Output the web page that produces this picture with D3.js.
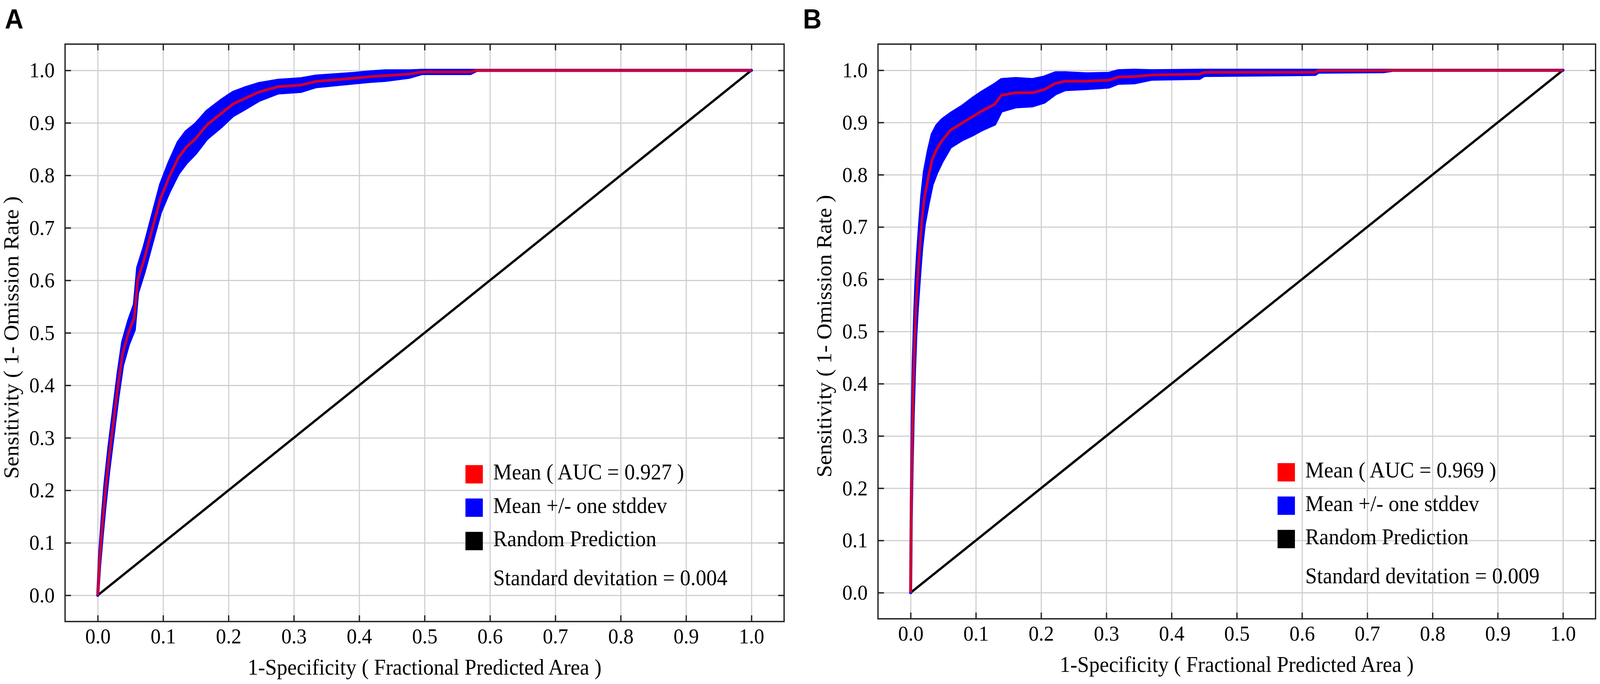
<!DOCTYPE html>
<html>
<head>
<meta charset="utf-8">
<script src="https://cdn.jsdelivr.net/npm/d3@7"></script>
<style>
  html, body { margin: 0; padding: 0; background: #fff; overflow: hidden; }
  #chart { width: 100vw; height: 100vh; }
  svg { display: block; }
</style>
</head>
<body>
<div id="chart"></div>
<script>
// ---- data ----
const tickValues = [0, 0.1, 0.2, 0.3, 0.4, 0.5, 0.6, 0.7, 0.8, 0.9, 1.0];
const randomLine = [[0, 0], [1, 1]];

// panel A: fractional predicted area, mean sensitivity, one stddev
const fprA = [0, 0.003, 0.007, 0.011, 0.017, 0.024, 0.031, 0.038, 0.047, 0.056, 0.061, 0.071, 0.086, 0.096,
  0.109, 0.123, 0.135, 0.149, 0.167, 0.19, 0.207, 0.224, 0.247, 0.276, 0.311, 0.334, 0.391, 0.416, 0.44,
  0.477, 0.496, 0.52, 0.57, 0.58, 0.6, 1.0];
const meanA = [0, 0.07, 0.133, 0.19, 0.26, 0.33, 0.40, 0.46, 0.50, 0.53, 0.60, 0.64, 0.71, 0.756,
  0.796, 0.833, 0.853, 0.869, 0.896, 0.919, 0.936, 0.946, 0.959, 0.969, 0.972, 0.979, 0.985, 0.988, 0.990,
  0.993, 0.997, 0.997, 0.997, 1.0, 1.0, 1.0];
const sdA = [0, 0.012, 0.018, 0.022, 0.022, 0.022, 0.022, 0.022, 0.022, 0.024, 0.024, 0.024, 0.025, 0.026,
  0.028, 0.03, 0.03, 0.028, 0.026, 0.025, 0.022, 0.02, 0.016, 0.012, 0.012, 0.01, 0.009, 0.009, 0.009,
  0.006, 0.003, 0.003, 0.003, 0, 0, 0];

// panel B
const fprB = [0, 0.001, 0.0024, 0.004, 0.006, 0.008, 0.0104, 0.0137, 0.017, 0.021, 0.027, 0.033, 0.040, 0.048,
  0.061, 0.079, 0.096, 0.109, 0.129, 0.139, 0.161, 0.187, 0.205, 0.222, 0.237, 0.27, 0.304, 0.318, 0.343,
  0.37, 0.443, 0.45, 0.62, 0.625, 0.725, 0.74, 1.0];
const meanB = [0, 0.155, 0.289, 0.389, 0.475, 0.542, 0.595, 0.655, 0.709, 0.755, 0.795, 0.829, 0.849, 0.865,
  0.885, 0.899, 0.912, 0.922, 0.935, 0.952, 0.957, 0.957, 0.963, 0.975, 0.979, 0.979, 0.981, 0.987, 0.988,
  0.991, 0.9925, 0.996, 0.996, 0.9993, 0.9993, 1.0, 1.0];
const sdB = [0, 0.01, 0.04, 0.05, 0.05, 0.05, 0.05, 0.05, 0.05, 0.05, 0.05, 0.048, 0.045, 0.04,
  0.032, 0.032, 0.035, 0.036, 0.038, 0.03, 0.027, 0.025, 0.024, 0.02, 0.016, 0.014, 0.013, 0.012, 0.012,
  0.008, 0.008, 0.006, 0.004, 0.003, 0.002, 0, 0];

const legendLabels = ['Mean ( AUC = {auc} )', 'Mean +/- one stddev', 'Random Prediction'];
const aucValues = ['0.927', '0.969'];
const stdValues = ['0.004', '0.009'];

// ---- layout ----
const W = 4328, H = 1752;
const serif = "'Liberation Serif', 'Times New Roman', serif";
const colors = { red: '#ff0000', blue: '#0000ff', black: '#000000', grid: '#cfcfcf', frame: '#222222' };

const panels = [
  { tag: 'A', tagX: 13, frame: { l: 176, r: 2121, t: 113, b: 1592 }, fpr: fprA, mean: meanA, sd: sdA, auc: aucValues[0], std: stdValues[0] },
  { tag: 'B', tagX: 2172, frame: { l: 2375, r: 4316, t: 113, b: 1585 }, fpr: fprB, mean: meanB, sd: sdB, auc: aucValues[1], std: stdValues[1] }
];

// stretch to the whole viewport so the layout lines up with the 4328x1752 frame
const svg = d3.select('#chart').append('svg')
  .attr('width', '100%')
  .attr('height', '100%')
  .attr('viewBox', `0 0 ${W} ${H}`)
  .attr('preserveAspectRatio', 'none');

svg.append('rect').attr('width', W).attr('height', H).attr('fill', '#fff');

panels.forEach((p) => drawPanel(p));

function drawPanel(p) {
  const f = p.frame;
  const w = f.r - f.l;
  const h = f.b - f.t;

  const x = d3.scaleLinear().domain([-0.05, 1.05]).range([0, w]);
  const y = d3.scaleLinear().domain([-0.05, 1.05]).range([h, 0]);

  const g = svg.append('g').attr('transform', `translate(${f.l}, ${f.t})`);

  // grid
  const gx = g.append('g')
    .attr('transform', `translate(0, ${h})`)
    .call(d3.axisBottom(x).tickValues(tickValues).tickSize(-h).tickFormat(''));
  const gy = g.append('g')
    .call(d3.axisLeft(y).tickValues(tickValues).tickSize(-w).tickFormat(''));
  [gx, gy].forEach((a) => {
    a.select('.domain').remove();
    a.selectAll('line').attr('stroke', colors.grid).attr('stroke-width', 3);
  });

  // random prediction
  g.append('path')
    .datum(randomLine)
    .attr('d', d3.line().x((d) => x(d[0])).y((d) => y(d[1])))
    .attr('fill', 'none')
    .attr('stroke', colors.black)
    .attr('stroke-width', 6);

  const rows = p.fpr.map((v, i) => ({
    x: v,
    m: p.mean[i],
    lo: Math.max(0, p.mean[i] - p.sd[i]),
    hi: Math.min(1, p.mean[i] + p.sd[i])
  }));

  // mean +/- one stddev
  g.append('path')
    .datum(rows)
    .attr('d', d3.area().x((d) => x(d.x)).y0((d) => y(d.lo)).y1((d) => y(d.hi)))
    .attr('fill', colors.blue)
    .attr('stroke', colors.blue)
    .attr('stroke-width', 8)
    .attr('stroke-linejoin', 'round');

  // mean
  g.append('path')
    .datum(rows)
    .attr('d', d3.line().x((d) => x(d.x)).y((d) => y(d.m)))
    .attr('fill', 'none')
    .attr('stroke', colors.red)
    .attr('stroke-opacity', 0.82)
    .attr('stroke-width', 7)
    .attr('stroke-linejoin', 'round');

  // frame
  g.append('rect')
    .attr('width', w)
    .attr('height', h)
    .attr('fill', 'none')
    .attr('stroke', colors.frame)
    .attr('stroke-width', 3.5);

  // inward ticks on all four sides
  const tb = g.append('g').attr('transform', `translate(0, ${h})`)
    .call(d3.axisBottom(x).tickValues(tickValues).tickSize(-16).tickFormat(''));
  const tt = g.append('g')
    .call(d3.axisTop(x).tickValues(tickValues).tickSize(-16).tickFormat(''));
  const tl = g.append('g')
    .call(d3.axisLeft(y).tickValues(tickValues).tickSize(-16).tickFormat(''));
  const tr = g.append('g').attr('transform', `translate(${w}, 0)`)
    .call(d3.axisRight(y).tickValues(tickValues).tickSize(-16).tickFormat(''));
  [tb, tt, tl, tr].forEach((a) => {
    a.select('.domain').remove();
    a.selectAll('line').attr('stroke', colors.frame).attr('stroke-width', 3.5);
  });

  // tick labels
  const lb = g.append('g').attr('transform', `translate(0, ${h})`)
    .call(d3.axisBottom(x).tickValues(tickValues).tickSize(0).tickPadding(17).tickFormat(d3.format('.1f')));
  const ll = g.append('g')
    .call(d3.axisLeft(y).tickValues(tickValues).tickSize(0).tickPadding(28).tickFormat(d3.format('.1f')));
  [lb, ll].forEach((a) => {
    a.select('.domain').remove();
    a.attr('font-family', serif).attr('font-size', 55);
    a.selectAll('text').attr('fill', '#000');
  });

  // axis titles
  g.append('text')
    .attr('x', x(0.5))
    .attr('y', h + 136)
    .attr('text-anchor', 'middle')
    .attr('font-family', serif)
    .attr('font-size', 57)
    .text('1-Specificity ( Fractional Predicted Area )');

  g.append('text')
    .attr('transform', `translate(-126, ${h / 2 + 12}) rotate(-90)`)
    .attr('text-anchor', 'middle')
    .attr('font-family', serif)
    .attr('font-size', 57)
    .text('Sensitivity ( 1- Omission Rate )');

  // legend
  const lx = x(0.5625);
  const ly = y(0.248);
  const rowH = 85.5;
  const swatches = [colors.red, colors.blue, colors.black];
  const leg = g.append('g').attr('font-family', serif).attr('font-size', 57);
  swatches.forEach((c, i) => {
    leg.append('rect')
      .attr('x', lx)
      .attr('y', ly + i * rowH)
      .attr('width', 47)
      .attr('height', 47)
      .attr('fill', c);
    leg.append('text')
      .attr('x', lx + 75)
      .attr('y', ly + i * rowH + 37)
      .text(legendLabels[i].replace('{auc}', p.auc));
  });
  leg.append('text')
    .attr('x', lx + 75)
    .attr('y', ly + 2 * rowH + 137)
    .text(`Standard devitation = ${p.std}`);

  // panel tag
  svg.append('text')
    .attr('x', p.tagX)
    .attr('y', 73)
    .attr('font-family', "'Liberation Sans', Arial, sans-serif")
    .attr('font-weight', 'bold')
    .attr('font-size', 70)
    .text(p.tag);
}
</script>
</body>
</html>
